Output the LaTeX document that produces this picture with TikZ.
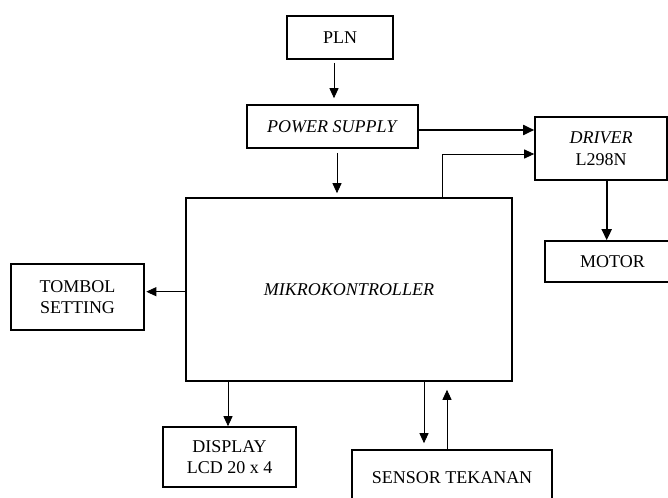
\documentclass[tikz,border=0pt]{standalone}
\usepackage{fontspec}
\setmainfont{Liberation Serif}
\newfontfamily\tnrfont{Liberation Serif}
\usetikzlibrary{arrows.meta}
\begin{document}
\begin{tikzpicture}[x=1pt,y=-1pt,
  blk/.style={draw=black,line width=1.6pt,inner sep=0pt,align=center,
    font=\tnrfont\fontsize{18}{21.5}\selectfont},
  thinarr/.style={line width=0.9pt,-{Triangle[width=9pt,length=10pt]}},
  boldarr/.style={line width=1.8pt,-{Triangle[width=10pt,length=11pt]}}]
\useasboundingbox (0,0) rectangle (668,497);
\clip (0,0) rectangle (668,497);
\node[blk,minimum width=106pt,minimum height=43pt] (pln) at (340,37.5) {PLN};
\node[blk,minimum width=171pt,minimum height=43pt] (ps) at (332.5,126.5) {\textit{POWER SUPPLY}};
\node[blk,minimum width=132pt,minimum height=63.5pt] (drv) at (601,148.5) {\textit{DRIVER}\\L298N};
\node[blk,minimum width=135pt,minimum height=41pt] (mot) at (612.5,261.5) {MOTOR};
\node[blk,minimum width=326pt,minimum height=183pt] (mk) at (349,289.5) {\textit{MIKROKONTROLLER}};
\node[blk,minimum width=133pt,minimum height=66pt] (tom) at (77.5,297) {TOMBOL\\SETTING};
\node[blk,minimum width=133pt,minimum height=60pt] (disp) at (229.5,457) {DISPLAY\\LCD 20 x 4};
\node[blk,minimum width=200pt,minimum height=56pt] (sen) at (452,478) {SENSOR TEKANAN};
% connectors
\draw[thinarr,shorten <=3pt,shorten >=6pt] ([xshift=-6pt]pln.south) -- ([xshift=-6pt]pln.south |- ps.north);
\draw[thinarr,shorten <=4pt,shorten >=4pt] ([xshift=4.5pt]ps.south) -- ([xshift=4.5pt]ps.south |- mk.north);
\draw[boldarr] ([yshift=-3.5pt]ps.east) -- ([yshift=-3.5pt]ps.east -| drv.west);
\draw[thinarr] ([xshift=93pt]mk.north) |- ([yshift=-5.5pt]drv.west);
\draw[boldarr] ([xshift=5.7pt]drv.south) -- ([xshift=5.7pt]drv.south |- mot.north);
\draw[thinarr,shorten >=1.5pt] ([yshift=-2.2pt]mk.west) -- ([yshift=-2.2pt]mk.west -| tom.east);
\draw[thinarr] ([xshift=-121pt]mk.south) -- ([xshift=-121pt]mk.south |- disp.north);
\draw[thinarr,shorten >=6pt] ([xshift=75pt]mk.south) -- ([xshift=75pt]mk.south |- sen.north);
\draw[thinarr,shorten >=8pt] ([xshift=-5pt]sen.north) -- ([xshift=-5pt]sen.north |- mk.south);
\end{tikzpicture}
\end{document}
